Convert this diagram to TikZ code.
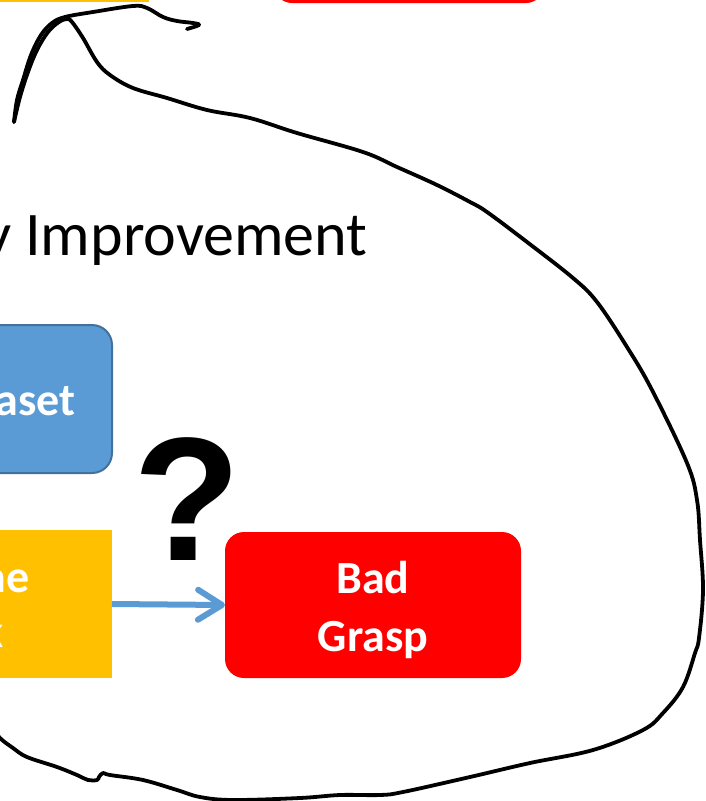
\documentclass[tikz,border=0pt]{standalone}
\usepackage{fontspec}
\setmainfont{Carlito}
\newfontfamily\queryfont{Liberation Sans}
\usetikzlibrary{arrows.meta}
\definecolor{slideblue}{HTML}{5B9BD5}
\definecolor{slideblueedge}{HTML}{41719C}
\definecolor{slideyellow}{HTML}{FFC000}
\definecolor{slidered}{HTML}{FF0000}
\begin{document}
\begin{tikzpicture}[x=1pt,y=-1pt,
    box/.style={inner sep=0pt, outer sep=0pt},
    datasetbox/.style={box, fill=slideblue, draw=slideblueedge, line width=2pt, rounded corners=20pt},
    taskbox/.style={box, fill=slideyellow},
    graspbox/.style={box, fill=slidered, rounded corners=19pt},
    boxtext/.style={text=white, font=\bfseries\fontsize{46}{58}\selectfont, align=center},
    inkline/.style={line width=3.8pt, line cap=round, line join=round},
    flowarrow/.style={slideblue, line width=6pt,
      -{Straight Barb[length=24pt, width=30pt, line cap=round, line join=round]}}]
  \useasboundingbox (0,0) rectangle (705,801);
  \clip (0,0) rectangle (705,801);
  \fill[slideyellow] (-10,-20) rectangle (149,2);
  \fill[slidered, rounded corners=18pt] (274,-40) rectangle (544,3);
  \node[font=\fontsize{62}{74}\selectfont, anchor=base east] (title) at (371,255) {y Improvement};
  \node[datasetbox, minimum width=300pt, minimum height=148pt, anchor=north east] (dataset) at (112,325) {};
  \node[boxtext, anchor=base east] (datasetlabel) at (79,415) {aset};
  \node[taskbox, minimum width=300pt, minimum height=148pt, anchor=north east] (task) at (112,530) {};
  \node[boxtext, anchor=base east] (tasklabel1) at (33,592) {he};
  \node[boxtext, anchor=base east] (tasklabel2) at (7,647) {k};
  \node[graspbox, minimum width=296pt, minimum height=146pt] (grasp) at (373,605) {};
  \node[boxtext] (grasplabel) at (373,610) {Bad\\Grasp};
  \node[font=\queryfont\bfseries\fontsize{176}{176}\selectfont, anchor=base] (query) at (187,560) {?};
  \draw[flowarrow] (task.east) -- (grasp.west);
  \draw[inkline] plot[smooth, tension=0.6] coordinates {(14,122) (17,100) (23,80) (31,55) (41,35) (52,23) (65,17)
    (93,12) (133,6) (147,8) (163,17) (177,21) (193,23) (199,25) (187,29)};
  \draw[inkline] plot[smooth, tension=0.6] coordinates {(14,122) (20,97) (28,72) (37,50) (48,32) (59,22) (67,19)
    (72,22) (83,38) (97,62) (110,75) (133,88) (167,98) (207,110) (250,118) (297,133) (363,152) (397,167)
    (437,185) (470,202) (487,212) (527,242) (573,278) (597,302) (627,347) (652,390) (687,463) (697,500)
    (700,540) (703,590) (699,638) (695,653) (683,687) (663,713) (643,730) (593,750) (530,763) (470,777)
    (403,792) (380,795) (340,795) (300,798) (233,800) (200,797) (177,790) (143,780) (110,775) (103,773)
    (99,777) (97,780) (88,780) (77,775) (57,767) (27,757) (13,748) (0,738) (-10,725)};
\end{tikzpicture}
\end{document}
